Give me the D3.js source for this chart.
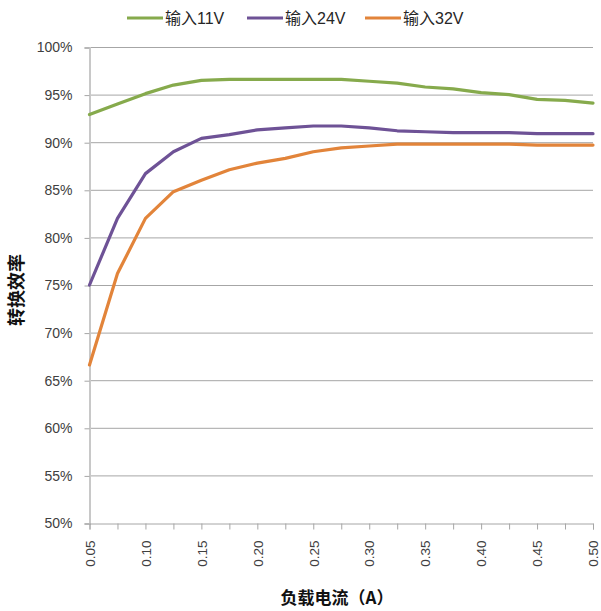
<!DOCTYPE html>
<html><head><meta charset="utf-8">
<script src="https://cdn.jsdelivr.net/npm/d3@7"></script>
<style>body{margin:0;background:#fff}svg{display:block}</style>
</head><body>
<script>
const categories = ["0.05","0.075","0.10","0.125","0.15","0.175","0.20","0.225","0.25","0.275","0.30","0.325","0.35","0.375","0.40","0.425","0.45","0.475","0.50"];
const tickLabels = ["0.05","0.10","0.15","0.20","0.25","0.30","0.35","0.40","0.45","0.50"];
const seriesNames = ["输入11V","输入24V","输入32V"];
const v11 = [92.9,94.0,95.1,96.0,96.5,96.6,96.6,96.6,96.6,96.6,96.4,96.2,95.8,95.6,95.2,95.0,94.5,94.4,94.1];
const v24 = [75.0,82.0,86.7,89.0,90.4,90.8,91.3,91.5,91.7,91.7,91.5,91.2,91.1,91.0,91.0,91.0,90.9,90.9,90.9];
const v32 = [66.6,76.2,82.0,84.8,86.0,87.1,87.8,88.3,89.0,89.4,89.6,89.8,89.8,89.8,89.8,89.8,89.7,89.7,89.7];
const yTicks = [50,55,60,65,70,75,80,85,90,95,100];
const colors = ["#86AA4C","#6E5296","#E2843A"];
const series = [v11, v24, v32];

const W = 601, H = 611;
const svg = d3.select("body").append("svg").attr("width", W).attr("height", H);
const x = d3.scalePoint().domain(categories).range([89.5, 593]);
const y = d3.scaleLinear().domain([50, 100]).range([523, 47]);
const numFont = "'Liberation Sans', Arial, sans-serif";
const cjkFont = "'Noto Sans CJK SC', sans-serif";

// gridlines
svg.append("g").selectAll("line").data(yTicks.filter(d => d > 50)).join("line")
  .attr("x1", 89.5).attr("x2", 593).attr("y1", d => y(d)+0.5).attr("y2", d => y(d)+0.5)
  .attr("stroke", "#a6a6a6").attr("stroke-width", 1);

// y axis
const yAxis = svg.append("g").attr("transform", "translate(89.5,0.5)")
  .call(d3.axisLeft(y).tickValues(yTicks).tickSize(5).tickPadding(12).tickFormat(d => d + "%"));
yAxis.select(".domain").attr("stroke", "#c8c8c8").attr("stroke-width", 2);
yAxis.selectAll(".tick line").attr("stroke", "#a6a6a6");
yAxis.selectAll("text").attr("font-family", numFont).attr("font-size", 14).attr("fill", "#404040");

// x axis
const xAxis = svg.append("g").attr("transform", "translate(0,523.5)")
  .call(d3.axisBottom(x).tickSize(6).tickFormat(d => tickLabels.includes(d) ? d : ""));
xAxis.select(".domain").attr("stroke", "#a6a6a6").attr("stroke-width", 1);
xAxis.selectAll(".tick line").attr("stroke", "#a6a6a6");
xAxis.selectAll("text").attr("font-family", numFont).attr("font-size", 13.5).attr("fill", "#404040")
  .attr("text-anchor", "end").attr("transform", "rotate(-90)").attr("x", -17).attr("y", 0).attr("dy", "0.35em");

// lines
const line = d3.line().x((d, i) => x(categories[i])).y(d => y(d));
svg.append("g").selectAll("path").data(series).join("path")
  .attr("d", d => line(d)).attr("fill", "none")
  .attr("stroke", (d, i) => colors[i]).attr("stroke-width", 3.2).attr("stroke-linejoin", "round").attr("stroke-linecap", "round");

// legend
const legX = [127, 247, 365];
const leg = svg.append("g").selectAll("g").data(seriesNames).join("g")
  .attr("transform", (d, i) => `translate(${legX[i]},18)`);
leg.append("line").attr("x1", 0).attr("x2", 36).attr("y1", 0).attr("y2", 0)
  .attr("stroke", (d, i) => colors[i]).attr("stroke-width", 3.2);
leg.append("text").attr("x", 38).attr("y", 0).attr("dy", "0.36em").text(d => d)
  .attr("font-family", numFont + ",'Noto Sans CJK SC'").attr("font-size", 16).attr("fill", "#262626");

// axis titles
svg.append("text").attr("transform", "translate(23,290) rotate(-90)").attr("text-anchor", "middle")
  .attr("font-family", cjkFont).attr("font-weight", "bold").attr("font-size", 18).attr("fill", "#111")
  .text("转换效率");
svg.append("text").attr("x", 337).attr("y", 604).attr("text-anchor", "middle")
  .attr("font-family", cjkFont).attr("font-weight", "bold").attr("font-size", 17).attr("fill", "#111")
  .text("负载电流（A）");
</script>
</body></html>
